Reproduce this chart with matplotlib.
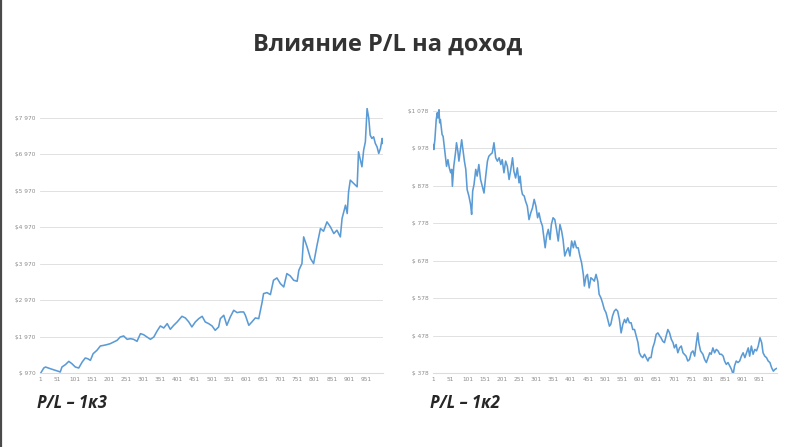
import matplotlib.pyplot as plt
from matplotlib.ticker import FixedLocator

# P/L 1k3 (left chart): trade number and account balance
left_idx = [1, 11, 16, 30, 45, 54, 59, 64, 74, 84, 93, 103, 113, 123, 132, 139, 147, 155,
            166, 176, 186, 195, 205, 215, 225, 234, 244, 254, 264, 273, 283, 293, 302, 312,
            322, 332, 341, 351, 361, 371, 380, 390, 400, 414, 424, 434, 443, 453, 463, 473,
            482, 492, 502, 511, 521, 526, 536, 545, 555, 565, 575, 584, 594, 599, 609, 618,
            628, 638, 643, 648, 652, 662, 672, 681, 691, 701, 711, 720, 730, 740, 750, 755,
            764, 769, 779, 789, 798, 808, 818, 827, 837, 847, 857, 866, 876, 881, 891, 896,
            900, 905, 915, 925, 929, 939, 944, 949, 954, 959, 963, 968, 973, 978, 983, 988,
            993, 998, 1000]
left_val = [952, 1107, 1135, 1089, 1043, 1016, 997, 1135, 1199, 1290, 1226, 1135, 1107, 1272,
            1382, 1363, 1318, 1501, 1592, 1711, 1729, 1748, 1775, 1821, 1867, 1958, 1986, 1894,
            1912, 1894, 1839, 2050, 2022, 1958, 1894, 1958, 2114, 2260, 2205, 2324, 2169, 2278,
            2370, 2525, 2480, 2370, 2233, 2370, 2461, 2525, 2370, 2324, 2260, 2141, 2233, 2461,
            2553, 2278, 2507, 2690, 2626, 2644, 2644, 2553, 2278, 2370, 2480, 2461, 2690, 2919,
            3147, 3175, 3120, 3513, 3577, 3422, 3330, 3696, 3632, 3513, 3486, 3788, 3971, 4703,
            4428, 4108, 3971, 4474, 4932, 4858, 5114, 4977, 4794, 4886, 4703, 5206, 5572, 5343,
            5938, 6258, 6167, 6075, 7036, 6624, 7082, 7310, 8225, 7951, 7493, 7402, 7447, 7265,
            7173, 6990, 7127, 7402, 7265]

# P/L 1k2 (right chart)
right_idx = [1, 3, 6, 10, 13, 15, 18, 20, 22, 27, 30, 34, 37, 40, 44, 48, 52, 55, 57, 61, 66,
             69, 73, 76, 81, 84, 89, 92, 96, 100, 105, 110, 113, 116, 120, 125, 129, 134, 139,
             144, 149, 154, 159, 163, 168, 173, 178, 183, 188, 193, 198, 202, 207, 212, 217,
             222, 227, 232, 236, 241, 246, 251, 254, 258, 261, 266, 270, 275, 280, 285, 290,
             295, 300, 305, 309, 314, 319, 324, 327, 331, 336, 341, 345, 350, 355, 360, 365,
             370, 375, 379, 384, 389, 394, 399, 404, 409, 413, 418, 423, 428, 433, 438, 441,
             446, 450, 455, 460, 465, 470, 475, 480, 484, 489, 494, 499, 504, 509, 514, 518,
             523, 528, 533, 538, 543, 548, 553, 558, 562, 567, 572, 577, 582, 587, 592, 597,
             601, 606, 611, 616, 621, 626, 630, 635, 640, 645, 650, 655, 660, 664, 669, 674,
             679, 684, 689, 694, 699, 703, 708, 713, 718, 723, 728, 732, 737, 742, 747, 752,
             757, 762, 767, 771, 774, 779, 786, 791, 796, 801, 806, 810, 815, 820, 825, 830,
             835, 840, 845, 849, 854, 859, 864, 869, 874, 878, 883, 888, 893, 898, 903, 908,
             913, 918, 922, 927, 932, 937, 942, 947, 952, 957, 961, 966, 971, 976, 981, 986,
             991, 996, 1000]
right_val = [987, 974, 1000, 1054, 1072, 1058, 1080, 1045, 1054, 1014, 1009, 978, 956, 929, 947,
             925, 912, 921, 876, 929, 965, 992, 969, 943, 978, 1000, 965, 943, 921, 867, 850,
             827, 801, 863, 881, 921, 903, 934, 894, 876, 858, 903, 943, 956, 961, 965, 992,
             952, 943, 952, 934, 947, 912, 943, 929, 894, 921, 952, 916, 898, 925, 885, 903,
             867, 854, 850, 836, 823, 787, 805, 818, 841, 823, 792, 805, 783, 770, 734, 712,
             743, 761, 734, 774, 792, 787, 761, 730, 774, 756, 734, 690, 703, 712, 690, 730,
             712, 730, 712, 712, 690, 672, 641, 610, 636, 641, 605, 632, 628, 623, 641, 623,
             588, 579, 565, 548, 539, 521, 503, 508, 530, 543, 548, 543, 521, 485, 508, 521,
             512, 525, 512, 512, 494, 494, 477, 459, 432, 423, 419, 428, 419, 410, 419, 419,
             445, 459, 481, 485, 477, 472, 463, 459, 477, 494, 485, 468, 459, 445, 454, 432,
             445, 450, 432, 428, 423, 410, 414, 432, 437, 423, 459, 485, 459, 437, 428, 414,
             406, 419, 432, 428, 445, 432, 441, 437, 428, 428, 423, 410, 401, 406, 397, 388,
             374, 397, 410, 406, 410, 423, 432, 419, 432, 445, 423, 450, 428, 441, 437, 450,
             472, 459, 432, 423, 419, 410, 406, 392, 383, 388, 390]

x_ticks = list(range(1, 1000, 50))
left_ticks = [970, 1970, 2970, 3970, 4970, 5970, 6970, 7970]
right_ticks = [378, 478, 578, 678, 778, 878, 978, 1078]

LINE = "#5b9bd5"
GRID = "#dcdcdc"
TICK = "#8c8c8c"


def money(v):
    s = f"{v:,}".replace(",", " ")
    return "$" + s if v >= 1000 else "$ " + s


def style_axes(ax, yticks, ylim):
    ax.set_xlim(0, 1001)
    ax.set_ylim(*ylim)
    ax.yaxis.set_major_locator(FixedLocator(yticks))
    ax.set_yticklabels([money(v) for v in yticks])
    ax.set_xticks(x_ticks)
    ax.set_xticklabels([str(t) for t in x_ticks])
    ax.grid(axis="y", color=GRID, linewidth=0.6)
    ax.set_axisbelow(True)
    for side in ["top", "right", "left"]:
        ax.spines[side].set_visible(False)
    ax.spines["bottom"].set_color(GRID)
    ax.spines["bottom"].set_linewidth(0.8)
    ax.tick_params(axis="both", length=0, labelsize=4.2, colors=TICK, pad=3)


fig = plt.figure(figsize=(8, 4.47), dpi=100)
fig.patch.set_facecolor("white")

ax1 = fig.add_axes([0.05, 0.1655, 0.429, 0.594])
ax1.plot(left_idx, left_val, color=LINE, linewidth=1.15)
style_axes(ax1, left_ticks, (970, 8250))

ax2 = fig.add_axes([0.541, 0.1655, 0.43, 0.594])
ax2.plot(right_idx, right_val, color=LINE, linewidth=1.15)
style_axes(ax2, right_ticks, (378, 1086))

fig.text(0.485, 0.899, "Влияние P/L на доход", ha="center", va="center",
         fontsize=17, fontweight="bold", family="Open Sans", color="#333333")
fig.text(0.046, 0.098, "P/L – 1к3", ha="left", va="center", fontsize=12,
         fontweight="bold", style="italic", family="Open Sans", color="#262626")
fig.text(0.537, 0.098, "P/L – 1к2", ha="left", va="center", fontsize=12,
         fontweight="bold", style="italic", family="Open Sans", color="#262626")

# thin dark edge on the left side of the slide
fig.add_artist(plt.Line2D([0.0012, 0.0012], [0, 1], color="#4a4a4a", linewidth=1.6,
                          transform=fig.transFigure))

fig.savefig("out.png", dpi=100)
